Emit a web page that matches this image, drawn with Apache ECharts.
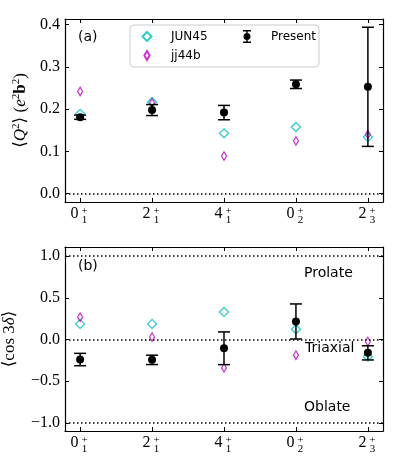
<!DOCTYPE html>
<html>
<head>
<meta charset="utf-8">
<script src="https://cdn.jsdelivr.net/npm/echarts@6/dist/echarts.min.js"></script>
<style>
  html, body { margin: 0; padding: 0; background: #fff; }
  #chart { width: 397px; height: 476px; }
</style>
</head>
<body>
<div id="chart"></div>
<script>
// states: J (spin), index, all positive parity
const spins = ['0', '2', '4', '0', '2']
const orders = ['1', '1', '1', '2', '3']

// (a) <Q^2> in e^2 b^2
const q2Present = [0.181, 0.198, 0.192, 0.259, 0.253]
const q2PresentErr = [0.005, 0.013, 0.017, 0.010, 0.141]
const q2Jun45 = [0.189, 0.217, 0.143, 0.158, 0.134]
const q2Jj44b = [0.242, 0.215, 0.089, 0.125, 0.140]

// (b) <cos 3delta>
const cosPresent = [-0.240, -0.244, -0.105, 0.216, -0.160]
const cosPresentErr = [0.074, 0.056, 0.196, 0.210, 0.085]
const cosJun45 = [0.187, 0.187, 0.330, 0.123, -0.204]
const cosJj44b = [0.267, 0.028, -0.340, -0.188, -0.024]

const shapeLines = [1, 0, -1]

const CYAN = '#00bfbf'
const MAGENTA = '#bf00bf'
const SERIF = '"Liberation Serif", "DejaVu Serif", serif'
const SANS = '"DejaVu Sans", sans-serif'

const pts = arr => arr.map((v, i) => [i, v])
const errPts = (vals, errs) => vals.map((v, i) => [i, v, errs[i]])

// tick labels J_n^+ : the digit on one axis, the stacked +/n on an overlaid one
const isTick = v => Number.isInteger(v) && v >= 0 && v < spins.length
const digitLabel = v => isTick(v) ? `{d|${spins[v]}}{s| }` : ''
const scriptLabel = v => isTick(v) ? `{d| }{s|+}\n{d| }{s|${orders[v]}}` : ''

const chart = echarts.init(document.getElementById('chart'))

const xRange = { type: 'value', min: -0.21, max: 4.21, splitLine: { show: false } }
const lineStyle = { color: '#000', width: 1.2 }
const frameLine = { onZero: false, lineStyle }
const ticks = { inside: true, length: 4, lineStyle: { color: '#000' } }

const makeXAxes = g => [
  {
    ...xRange, gridIndex: g, position: 'bottom',
    axisLine: frameLine, axisTick: ticks,
    axisLabel: {
      margin: 4, showMinLabel: false, showMaxLabel: false,
      formatter: digitLabel, color: '#000', fontFamily: SERIF,
      rich: {
        d: { fontSize: 16, width: 9, lineHeight: 16, fontFamily: SERIF },
        s: { fontSize: 11, width: 11, lineHeight: 16, fontFamily: SERIF }
      }
    }
  },
  {
    ...xRange, gridIndex: g, position: 'top',
    axisLine: frameLine, axisTick: ticks,
    axisLabel: { show: false }
  },
  {
    ...xRange, gridIndex: g, position: 'bottom',
    axisLine: { show: false, onZero: false }, axisTick: { show: false },
    axisLabel: {
      margin: 5, showMinLabel: false, showMaxLabel: false,
      formatter: scriptLabel, color: '#000', fontFamily: SERIF,
      rich: {
        d: { fontSize: 11, width: 9, lineHeight: 9, fontFamily: SERIF },
        s: { fontSize: 11, width: 11, lineHeight: 9, fontFamily: SERIF }
      }
    }
  }
]

const makeYAxes = (g, min, max, name, nameGap, rich) => [
  {
    type: 'value', gridIndex: g, min, max, position: 'left',
    splitLine: { show: false },
    axisLine: frameLine, axisTick: ticks,
    axisLabel: {
      margin: 5, showMinLabel: false, showMaxLabel: false,
      color: '#000', fontFamily: SERIF, fontSize: 16,
      formatter: v => (Math.abs(v * 10 - Math.round(v * 10)) < 1e-6 ? v.toFixed(1).replace('-', '\u2212') : '')
    },
    name, nameLocation: 'middle', nameRotate: 90, nameGap,
    nameTextStyle: { color: '#000', fontFamily: SERIF, fontSize: 17, rich }
  },
  {
    type: 'value', gridIndex: g, min, max, position: 'right',
    splitLine: { show: false },
    axisLine: frameLine, axisTick: ticks,
    axisLabel: { show: false }
  }
]

const nameRich = {
  m: { fontSize: 17, lineHeight: 19, fontFamily: SERIF },
  i: { fontSize: 17, lineHeight: 19, fontStyle: 'italic', fontFamily: SERIF },
  b: { fontSize: 17, lineHeight: 19, fontWeight: 'bold', fontFamily: SERIF },
  s: { fontSize: 11, lineHeight: 11, verticalAlign: 'top', fontFamily: SERIF }
}

const errorBar = (params, api) => {
  const x = api.value(0), y = api.value(1), e = api.value(2)
  const c = api.coord([x, y])
  const hi = api.coord([x, y + e])
  const lo = api.coord([x, y - e])
  const w = 6
  const st = { stroke: '#000', lineWidth: 1.5 }
  return {
    type: 'group',
    children: [
      { type: 'line', shape: { x1: c[0], y1: hi[1], x2: c[0], y2: lo[1] }, style: st },
      { type: 'line', shape: { x1: c[0] - w, y1: hi[1], x2: c[0] + w, y2: hi[1] }, style: st },
      { type: 'line', shape: { x1: c[0] - w, y1: lo[1], x2: c[0] + w, y2: lo[1] }, style: st },
      { type: 'circle', shape: { cx: c[0], cy: c[1], r: 4 }, style: { fill: '#000' } }
    ]
  }
}

const dotted = vals => ({
  silent: true, symbol: 'none', label: { show: false },
  lineStyle: { color: '#000', type: [1.5, 2.5], width: 1.5 },
  data: vals.map(v => ({ yAxis: v }))
})

const panelSeries = (xi, yi, jun, jj, pres, err, lines) => [
  {
    name: 'JUN45', type: 'scatter', xAxisIndex: xi, yAxisIndex: yi,
    symbol: 'diamond', symbolSize: 9, z: 2,
    itemStyle: { color: 'rgba(0,0,0,0)', borderColor: CYAN, borderWidth: 1.3 },
    data: pts(jun),
    markLine: dotted(lines)
  },
  {
    name: 'jj44b', type: 'scatter', xAxisIndex: xi, yAxisIndex: yi,
    symbol: 'diamond', symbolSize: [5, 8.5], z: 2,
    itemStyle: { color: 'rgba(0,0,0,0)', borderColor: MAGENTA, borderWidth: 1.3 },
    data: pts(jj)
  },
  {
    name: 'Present', type: 'custom', xAxisIndex: xi, yAxisIndex: yi, z: 3,
    itemStyle: { color: '#000' },
    renderItem: errorBar,
    data: errPts(pres, err)
  }
]

const option = {
  animation: false,
  grid: [
    { left: 65, top: 19, width: 318, height: 183, outerBoundsMode: 'none', containLabel: false },
    { left: 65, top: 247, width: 318, height: 184, outerBoundsMode: 'none', containLabel: false }
  ],
  xAxis: [...makeXAxes(0), ...makeXAxes(1)],
  yAxis: [
    ...makeYAxes(0, -0.0196, 0.4135,
      '{m|\u27E8}{i|Q}{s|2}{m|\u27E9 (}{i|e}{s|2}{b|b}{s|2}{m|)}', 31, nameRich),
    ...makeYAxes(1, -1.096, 1.108,
      '{m|\u27E8cos 3}{i|\u03B4}{m|\u27E9}', 46, nameRich)
  ],
  legend: {
    orient: 'vertical', left: 130, top: 25, height: 36,
    padding: [4, 3, 4, 11], itemGap: 4, itemWidth: 14, itemHeight: 13,
    backgroundColor: 'rgba(255,255,255,0.8)', borderColor: '#cccccc', borderWidth: 1, borderRadius: 4,
    selectedMode: false,
    data: [
      { name: 'JUN45', icon: 'path://M5,2L9.5,6.5L5,11L0.5,6.5Z M0,0L0.01,0 M10,13L9.99,13' },
      { name: 'jj44b', icon: 'path://M5,2L7.6,6.5L5,11L2.4,6.5Z M0,0L0.01,0 M10,13L9.99,13' },
      { name: 'Present', icon: 'path://M0,0H8V1.4H0Z M3.3,0H4.7V13H3.3Z M0,11.6H8V13H0Z M4,3A3.5,3.5 0 1 1 3.99,3Z' }
    ],
    formatter: n => n === 'Present' ? `{p|${n}}` : `{a|${n}}`,
    textStyle: {
      fontFamily: SANS, fontSize: 12, color: '#000', lineHeight: 14,
      rich: {
        a: { width: 66, padding: [0, 0, 0, 12], fontFamily: SANS, fontSize: 12 },
        p: { width: 42, padding: [0, 0, 0, 12], fontFamily: SANS, fontSize: 12 }
      }
    }
  },
  graphic: [
    { type: 'text', left: 78, top: 30, style: { text: '(a)', font: '14px ' + SANS, fill: '#000' } },
    { type: 'text', left: 78, top: 259, style: { text: '(b)', font: '14px ' + SANS, fill: '#000' } },
    { type: 'text', left: 304, top: 266, style: { text: 'Prolate', font: '14px ' + SANS, fill: '#000' } },
    { type: 'text', left: 305, top: 341, style: { text: 'Triaxial', font: '14px ' + SANS, fill: '#000' } },
    { type: 'text', left: 304, top: 400, style: { text: 'Oblate', font: '14px ' + SANS, fill: '#000' } }
  ],
  series: [
    ...panelSeries(0, 0, q2Jun45, q2Jj44b, q2Present, q2PresentErr, [0]),
    ...panelSeries(3, 2, cosJun45, cosJj44b, cosPresent, cosPresentErr, shapeLines)
  ]
}

chart.setOption(option)
</script>
</body>
</html>
